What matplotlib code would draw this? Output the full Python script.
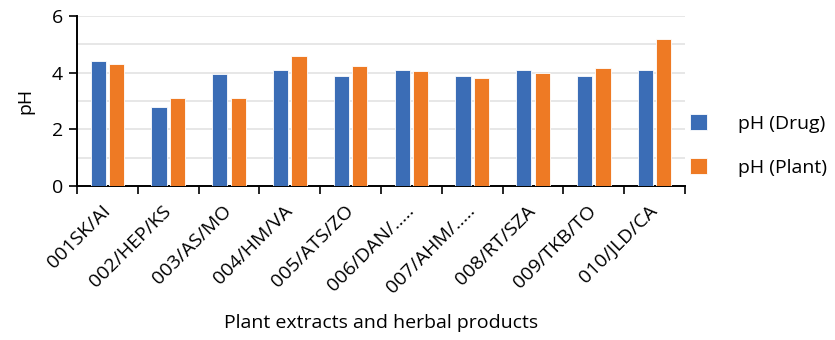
import matplotlib
matplotlib.use("Agg")
import matplotlib.pyplot as plt
import numpy as np

categories = ["001SK/AI", "002/HEP/KS", "003/AS/MO", "004/HM/VA", "005/ATS/ZO",
              "006/DAN/.....", "007/AHM/.....", "008/RT/SZA", "009/TKB/TO", "010/JLD/CA"]
ph_drug = [4.4, 2.8, 3.95, 4.1, 3.9, 4.1, 3.9, 4.1, 3.9, 4.1]
ph_plant = [4.3, 3.1, 3.1, 4.6, 4.25, 4.05, 3.8, 4.0, 4.15, 5.2]
series_names = ["pH (Drug)", "pH (Plant)"]
yticks = [0, 2, 4, 6]

plt.rcParams['font.family'] = ['Open Sans', 'DejaVu Sans']

fig = plt.figure(figsize=(8.35, 3.4), dpi=100)
ax = fig.add_axes([77/835, 1-186/340, (685-77)/835, (186-16)/340])

x = np.arange(len(categories))
blue = "#3B6DB6"
orange = "#EE7A24"
w = 0.25
ax.bar(x - 0.15, ph_drug, w, color=blue, edgecolor="white", linewidth=0.6, label=series_names[0], zorder=3)
ax.bar(x + 0.15, ph_plant, w, color=orange, edgecolor="white", linewidth=0.6, label=series_names[1], zorder=3)

ax.set_xlim(-0.5, len(categories) - 0.5)
ax.set_ylim(0, 6)
ax.set_yticks(yticks)
ax.set_yticks(np.arange(0, 7, 1), minor=True)
ax.grid(axis='y', which='both', color="#E3E3E3", linewidth=1.2, zorder=0)
ax.tick_params(axis='y', which='minor', length=0)
ax.tick_params(axis='y', which='major', length=6, width=1.2, labelsize=14, pad=4, color="black")

ax.set_xticks(x)
ax.set_xticklabels(categories, rotation=45, ha='right', va='center', rotation_mode='anchor', fontsize=14)
ax.tick_params(axis='x', which='major', length=0, pad=16)
ax.set_xticks(np.arange(-0.5, len(categories) + 0.5, 1), minor=True)
ax.tick_params(axis='x', which='minor', length=6, width=1.2, color="black")

for s in ['top', 'right']:
    ax.spines[s].set_visible(False)
for s in ['left', 'bottom']:
    ax.spines[s].set_linewidth(1.4)
    ax.spines[s].set_color("black")

ax.set_ylabel("pH", fontsize=14)
ax.yaxis.set_label_coords(-(77-34)/608, 0.5)
ax.set_xlabel("Plant extracts and herbal products", fontsize=14)
ax.xaxis.set_label_coords(0.5, -(314-186)/170)

leg = ax.legend(loc='center left', bbox_to_anchor=(690/835, 1-145.75/340), bbox_transform=fig.transFigure,
                frameon=False, fontsize=14, borderpad=0, borderaxespad=0,
                handlelength=0.875, handleheight=0.875, handletextpad=1.6, labelspacing=1.3)

fig.savefig("out.png", dpi=100)
